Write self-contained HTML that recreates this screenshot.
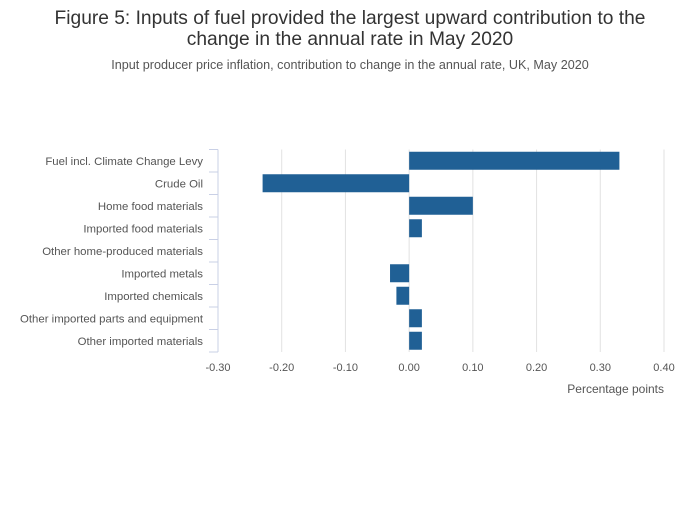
<!DOCTYPE html>
<html><head><meta charset="utf-8"><style>
body{margin:0;background:#fff;font-family:"Liberation Sans",sans-serif}
svg text{font-family:"Liberation Sans",sans-serif}
</style></head><body>
<svg width="700" height="502" id="c">
<text x="350" y="24" text-anchor="middle" font-size="19.2" fill="#333">Figure 5: Inputs of fuel provided the largest upward contribution to the</text>
<text x="350" y="45" text-anchor="middle" font-size="19.2" fill="#333">change in the annual rate in May 2020</text>
<text x="350" y="69" text-anchor="middle" font-size="12.6" fill="#555">Input producer price inflation, contribution to change in the annual rate, UK, May 2020</text>
<text x="664" y="393" text-anchor="end" font-size="12" fill="#555">Percentage points</text>
</svg>
<script>
const categories=["Fuel incl. Climate Change Levy","Crude Oil","Home food materials","Imported food materials","Other home-produced materials","Imported metals","Imported chemicals","Other imported parts and equipment","Other imported materials"];
const values=[0.33,-0.23,0.10,0.02,0,-0.03,-0.02,0.02,0.02];
const ticks=[-0.3,-0.2,-0.1,0,0.1,0.2,0.3,0.4];
const tickLabels=["-0.30","-0.20","-0.10","0.00","0.10","0.20","0.30","0.40"];
const svg=document.getElementById('c');const NS='http://www.w3.org/2000/svg';
const x0=218,x1=664,y0=149.5,y1=352;
const xs=v=>x0+(v-ticks[0])/(ticks[ticks.length-1]-ticks[0])*(x1-x0);
const band=(y1-y0)/categories.length;
function mk(t,a){const e=document.createElementNS(NS,t);for(const k in a)e.setAttribute(k,a[k]);svg.appendChild(e);return e;}
ticks.forEach((t,i)=>{
 if(i>0){const g=mk('line',{x1:xs(t),x2:xs(t),y1:y0,y2:y1,stroke:'#e2e2e2','stroke-width':1});
 
 }
 const l=mk('text',{x:xs(t),y:371,'text-anchor':'middle','font-size':11,fill:'#555'});l.textContent=tickLabels[i];
 
 
});
const ax=mk('line',{x1:x0,x2:x0,y1:y0,y2:y1,stroke:'#c9d0e6','stroke-width':1});


for(let i=0;i<=categories.length;i++){const y=y0+i*band;const t=mk('line',{x1:x0-9,x2:x0,y1:y,y2:y,stroke:'#c9d0e6','stroke-width':1});
 
 }
categories.forEach((c,i)=>{
 const cy=y0+(i+0.5)*band;
 const l=mk('text',{x:203,y:cy+4,'text-anchor':'end','font-size':11.4,fill:'#555'});l.textContent=c;
 
 
 const v=values[i];const a=xs(0),b=xs(v);
 const r=mk('rect',{x:Math.min(a,b),y:cy-9,width:Math.abs(b-a),height:18,fill:'#206095'});
 
 
});
</script>
</body></html>
